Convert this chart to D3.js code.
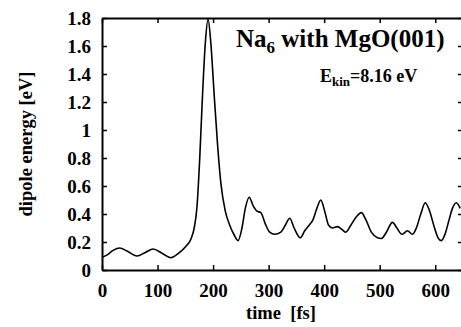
<!DOCTYPE html>
<html>
<head>
<meta charset="utf-8">
<script src="https://cdn.jsdelivr.net/npm/d3@7"></script>
<style>
  body { margin: 0; background: #fff; }
  svg text { font-family: "Liberation Serif", "Times New Roman", serif; font-weight: bold; fill: #000; }
</style>
</head>
<body>
<div id="chart"></div>
<script>
// time [fs] and dipole energy [eV]
var timeFs = [0, 10, 20, 32, 45, 63, 78, 92, 108, 124, 138, 150, 160, 166, 171, 176, 181, 186, 191, 196,
    202, 208, 214, 222, 230, 238, 245, 252, 258, 265, 272, 279, 286, 294, 302, 311, 322, 330, 338, 346,
    357, 365, 373, 380, 386, 394, 401, 408, 415, 424, 432, 439, 448, 458, 467, 475, 485, 496, 503, 512,
    523, 531, 540, 550, 559, 566, 574, 582, 590, 598, 605, 611, 618, 625, 631, 638, 645];
var dipoleEnergy = [0.09, 0.11, 0.14, 0.157, 0.135, 0.10, 0.125, 0.15, 0.12, 0.088, 0.12, 0.165, 0.22, 0.30, 0.45, 0.80, 1.25, 1.62, 1.79, 1.62,
    1.25, 0.90, 0.62, 0.42, 0.32, 0.25, 0.21, 0.30, 0.44, 0.52, 0.46, 0.42, 0.41, 0.33, 0.27, 0.255, 0.27, 0.32, 0.37, 0.30,
    0.23, 0.28, 0.32, 0.36, 0.43, 0.50, 0.42, 0.32, 0.30, 0.31, 0.29, 0.27, 0.32, 0.38, 0.41, 0.36, 0.27, 0.23, 0.225, 0.27,
    0.34, 0.30, 0.255, 0.28, 0.255, 0.30, 0.40, 0.48, 0.42, 0.31, 0.23, 0.21, 0.26, 0.36, 0.44, 0.48, 0.44];
var xTicks = [0, 100, 200, 300, 400, 500, 600];
var yTicks = [0, 0.2, 0.4, 0.6, 0.8, 1, 1.2, 1.4, 1.6, 1.8];

var w = 461, h = 327;
var mLeft = 102, mRight = 463, mTop = 18, mBottom = 270;

var xScale = d3.scaleLinear().domain([0, 650]).range([mLeft, mRight]);
var yScale = d3.scaleLinear().domain([0, 1.8]).range([mBottom, mTop]);

var svg = d3.select("#chart").append("svg")
    .attr("width", w)
    .attr("height", h);

var data = timeFs.map(function(t, i){ return {t: t, v: dipoleEnergy[i]}; });

var line = d3.line()
    .x(function(d){ return xScale(d.t); })
    .y(function(d){ return yScale(d.v); })
    .curve(d3.curveMonotoneX);

svg.append("path")
    .datum(data)
    .attr("d", line)
    .attr("fill", "none")
    .attr("stroke", "#000")
    .attr("stroke-width", 1.6);

// axes, ticks pointing inward
var xAxis = d3.axisBottom(xScale).tickValues(xTicks).tickSizeInner(-5).tickSizeOuter(0).tickPadding(14);
var xAxisTop = d3.axisTop(xScale).tickValues(xTicks).tickSizeInner(-5).tickSizeOuter(0).tickFormat("");
var yAxis = d3.axisLeft(yScale).tickValues(yTicks).tickSizeInner(-5).tickSizeOuter(0).tickPadding(11).tickFormat(d3.format("~g"));
var yAxisRight = d3.axisRight(yScale).tickValues(yTicks).tickSizeInner(-5).tickSizeOuter(0).tickFormat("");

function styleAxis(g){
    g.select(".domain").attr("stroke", "#000").attr("stroke-width", 2);
    g.selectAll(".tick line").attr("stroke", "#000").attr("stroke-width", 1.5);
    g.selectAll(".tick text").attr("font-family", null).attr("font-size", 19);
}

svg.append("g").attr("transform", "translate(0," + mBottom + ")").call(xAxis).call(styleAxis);
svg.append("g").attr("transform", "translate(0," + mTop + ")").call(xAxisTop).call(styleAxis);
svg.append("g").attr("transform", "translate(" + mLeft + ",0)").call(yAxis).call(styleAxis);
svg.append("g").attr("transform", "translate(" + mRight + ",0)").call(yAxisRight).call(styleAxis);

// axis titles
svg.append("text")
    .attr("x", 281)
    .attr("y", 319)
    .attr("text-anchor", "middle")
    .attr("xml:space", "preserve")
    .style("font-size", "18.5px")
    .text("time  [fs]");

svg.append("text")
    .attr("transform", "translate(32,144) rotate(-90)")
    .attr("text-anchor", "middle")
    .style("font-size", "18.5px")
    .text("dipole energy [eV]");

// annotations
var title = svg.append("text")
    .attr("x", 236)
    .attr("y", 47)
    .style("font-size", "25px");
title.append("tspan").text("Na");
title.append("tspan").attr("dy", 6).style("font-size", "17px").text("6");
title.append("tspan").attr("dy", -6).text(" with MgO(001)");

var ekin = svg.append("text")
    .attr("x", 320)
    .attr("y", 82)
    .style("font-size", "18px");
ekin.append("tspan").text("E");
ekin.append("tspan").attr("dy", 4).style("font-size", "13px").text("kin");
ekin.append("tspan").attr("dy", -4).text("=8.16 eV");
</script>
</body>
</html>
